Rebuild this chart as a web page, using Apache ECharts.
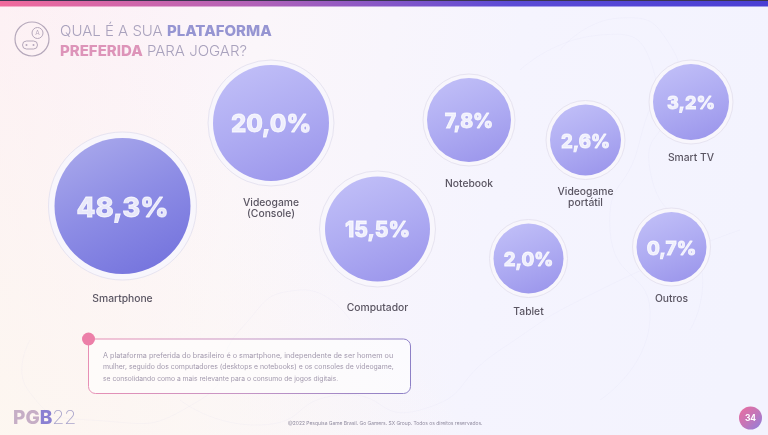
<!DOCTYPE html>
<html lang="pt-BR">
<head>
<meta charset="utf-8">
<title>Plataforma preferida para jogar</title>
<script src="https://cdn.jsdelivr.net/npm/echarts@6/dist/echarts.min.js"></script>
<style>
  html, body { margin: 0; padding: 0; background: #faf5fb; }
  #chart { width: 768px; height: 435px; }
</style>
</head>
<body>
<div id="chart"></div>
<script>
// Share of respondents per preferred gaming platform
const platforms = ['Smartphone', 'Videogame\n(Console)', 'Computador', 'Notebook', 'Videogame\nportátil', 'Smart TV', 'Tablet', 'Outros'];
const shares = [48.3, 20.0, 15.5, 7.8, 2.6, 3.2, 2.0, 0.7];

// Free-form bubble arrangement, in slide units
const slotX = [122.5, 271, 377.5, 469, 585.5, 691, 528.5, 671.5];
const slotY = [206, 123, 229, 120, 140, 102, 258.5, 247];
const bubbleDiameter = [136, 116, 105, 84, 71, 76, 70, 70];
const haloExtra = [12, 10, 11, 8, 8, 8, 8, 8];
const captionGap = [13, 11, 15, 12, 6, 8, 8, 7];
const valueFontSize = [27.5, 24, 21, 19.5, 18.5, 18, 18.5, 19];

const titleLines = '{thin|QUAL É A SUA }{violet|PLATAFORMA}\n{pink|PREFERIDA}{thin| PARA JOGAR?}';
const noteLines = [
  'A plataforma preferida do brasileiro é o smartphone, independente de ser homem ou',
  'mulher, seguido dos computadores (desktops e notebooks) e os consoles de videogame,',
  'se consolidando como a mais relevante para o consumo de jogos digitais.'
];
const noteFontSize = [7.25, 6.9, 6.75];
const footerText = '@2022 Pesquisa Game Brasil. Go Gamers. SX Group. Todos os direitos reservados.';
const pageNumber = '34';

const FONT = 'Inter, "Open Sans", sans-serif';
const gradient = (x, y, x2, y2, stops) => new echarts.graphic.LinearGradient(x, y, x2, y2,
  stops.map((color, i) => ({ offset: i / (stops.length - 1), color })));

const points = platforms.map((name, i) => ({ name, value: [slotX[i], slotY[i], shares[i]] }));
const faint = { stroke: 'rgba(190,180,225,0.07)', lineWidth: 1, fill: null };
const iconInk = '#b5a8bb';

const chart = echarts.init(document.getElementById('chart'), null, { renderer: 'canvas' });
chart.setOption({
  animation: false,
  title: {
    left: 60, top: 21, padding: 0,
    text: titleLines,
    textStyle: {
      fontFamily: FONT, fontWeight: 300, fontSize: 15, lineHeight: 20,
      rich: {
        thin: { fontFamily: FONT, fontWeight: 300, fontSize: 15, lineHeight: 20, color: '#a9a2bd' },
        violet: { fontFamily: FONT, fontWeight: 800, fontSize: 15, lineHeight: 20, color: '#9695d2' },
        pink: { fontFamily: FONT, fontWeight: 800, fontSize: 15, lineHeight: 20, color: '#dd94b9' }
      }
    }
  },
  grid: { left: 0, right: 0, top: 0, bottom: 0 },
  xAxis: { type: 'value', min: 0, max: 768, show: false },
  yAxis: { type: 'value', min: 0, max: 435, inverse: true, show: false },
  series: [
    {
      // Pale halo around each bubble, carrying the platform caption below it
      type: 'scatter', silent: true, z: 2,
      data: points.map((p, i) => ({
        ...p,
        label: { distance: captionGap[i] }
      })),
      symbol: 'circle',
      symbolSize: (v, params) => bubbleDiameter[params.dataIndex] + haloExtra[params.dataIndex],
      itemStyle: { color: '#f8f6fc', borderColor: '#e7e4f1', borderWidth: 1, opacity: 1 },
      label: {
        show: true, position: 'bottom',
        formatter: p => p.name,
        fontFamily: FONT, fontSize: 10.3, lineHeight: 11, fontWeight: 500, color: '#5a5562', align: 'center'
      }
    },
    {
      // Filled bubbles; the largest is drawn in a deeper tone
      type: 'scatter', silent: true, z: 3,
      data: points.map((p, i) => ({
        ...p,
        itemStyle: {
          color: i === 0
            ? gradient(0.2, 0, 0.7, 1, ['#9494e7', '#7272df', '#5554d6'])
            : gradient(0.25, 0, 0.65, 1, ['#b2b0f6', '#9d9af0', '#8680e8'])
        },
        label: { fontSize: valueFontSize[i], offset: [0, i === 0 ? 3 : 2] }
      })),
      symbol: 'circle',
      symbolSize: (v, params) => bubbleDiameter[params.dataIndex],
      label: {
        show: true, position: 'inside',
        formatter: p => p.value[2].toFixed(1).replace('.', ',') + '%',
        fontFamily: FONT, fontWeight: 800, color: '#ffffff',
        textBorderColor: '#ffffff', textBorderWidth: 0.8
      }
    }
  ],
  graphic: [
    // Slide background and top band
    { type: 'rect', z: -10, silent: true, shape: { x: 0, y: 0, width: 768, height: 435 },
      style: { fill: gradient(0, 0, 1, 0.3, ['#fdeef6', '#fbf6fa', '#f5f4fe', '#f3f3fe']) } },
    { type: 'rect', z: -10, silent: true, shape: { x: 0, y: 0, width: 768, height: 435 },
      style: { fill: gradient(0, 1, 0.4, 0.45, ['rgba(253,247,240,0.95)', 'rgba(253,247,240,0)']) } },
    { type: 'rect', z: -9, silent: true, shape: { x: 0, y: 1, width: 768, height: 5.5 },
      style: { fill: gradient(0, 0, 1, 0, ['#f06a9c', '#b162b8', '#5b4bd6', '#4a3fd4']) } },
    { type: 'rect', z: -8, silent: true, shape: { x: 0, y: 0, width: 768, height: 1 }, style: { fill: '#3a3550' } },

    // Faint contour lines behind the bubbles
    { type: 'polyline', z: -7, silent: true, shape: { smooth: 0.6, points: [[560, 50], [620, 18], [670, 45], [672, 100], [650, 170], [700, 260], [690, 330]] }, style: faint },
    { type: 'polyline', z: -7, silent: true, shape: { smooth: 0.6, points: [[520, 70], [600, 35], [650, 60], [640, 140], [610, 230], [650, 320], [600, 400]] }, style: faint },
    { type: 'polyline', z: -7, silent: true, shape: { smooth: 0.6, points: [[30, 340], [28, 390], [90, 420], [200, 400], [240, 330], [300, 290], [350, 320]] }, style: faint },
    { type: 'polyline', z: -7, silent: true, shape: { smooth: 0.6, points: [[180, 400], [260, 425], [340, 395], [420, 410], [500, 350], [600, 290], [740, 230]] }, style: faint },

    // Gamepad badge next to the heading
    { type: 'circle', silent: true, shape: { cx: 32, cy: 39, r: 17 }, style: { fill: 'none', stroke: iconInk, lineWidth: 1.2 } },
    { type: 'circle', silent: true, shape: { cx: 37.5, cy: 33, r: 5.5 }, style: { fill: 'none', stroke: iconInk, lineWidth: 1 } },
    { type: 'text', silent: true, style: { x: 37.5, y: 33, text: 'A', fontFamily: FONT, fontSize: 6.5, fill: iconInk, align: 'center', verticalAlign: 'middle' } },
    { type: 'rect', silent: true, shape: { x: 22.5, y: 41, width: 15, height: 8, r: 4 }, style: { fill: 'none', stroke: iconInk, lineWidth: 1 } },
    { type: 'circle', silent: true, shape: { cx: 26.5, cy: 45, r: 1 }, style: { fill: iconInk } },
    { type: 'circle', silent: true, shape: { cx: 33.5, cy: 45, r: 1 }, style: { fill: iconInk } },

    // Commentary box
    { type: 'rect', silent: true, shape: { x: 88.5, y: 339, width: 322, height: 54.5, r: [0, 7, 7, 7] },
      style: { fill: 'rgba(255,255,255,0.55)', lineWidth: 1, stroke: gradient(0, 0, 1, 0.6, ['#e88fb4', '#c596c6', '#8d80c6']) } },
    { type: 'circle', silent: true, shape: { cx: 88.5, cy: 339, r: 6.5 }, style: { fill: '#ec7fa8' } },
    ...noteLines.map((text, i) => ({
      type: 'text', silent: true,
      style: { x: 103, y: 355.5 + i * 11.7, text, fontFamily: FONT, fontSize: noteFontSize[i], fill: '#a39aae', verticalAlign: 'middle' }
    })),

    // Logo, credits and page marker
    { type: 'text', silent: true, style: {
        x: 13, y: 418, verticalAlign: 'middle', fontFamily: FONT,
        text: '{pg|PG}{b|B}{yr|22}',
        rich: {
          pg: { fontFamily: FONT, fontSize: 19, fontWeight: 800, fill: '#c6aec6' },
          b: { fontFamily: FONT, fontSize: 19, fontWeight: 800, fill: '#8a80d2' },
          yr: { fontFamily: FONT, fontSize: 19.5, fontWeight: 200, fill: '#aaa5cc' }
        }
      } },
    { type: 'text', silent: true, style: { x: 288, y: 423.5, text: footerText, fontFamily: FONT, fontSize: 4.95, fill: '#8f8a9e', verticalAlign: 'middle' } },
    { type: 'circle', silent: true, shape: { cx: 750.5, cy: 418, r: 11.5 }, style: { fill: gradient(0, 0, 1, 1, ['#ec6d9e', '#c576b8', '#8d7fdd']) } },
    { type: 'text', silent: true, style: { x: 750.5, y: 418, text: pageNumber, fontFamily: FONT, fontSize: 8.5, fontWeight: 700, fill: '#ffffff', align: 'center', verticalAlign: 'middle' } }
  ]
});
</script>
</body>
</html>
